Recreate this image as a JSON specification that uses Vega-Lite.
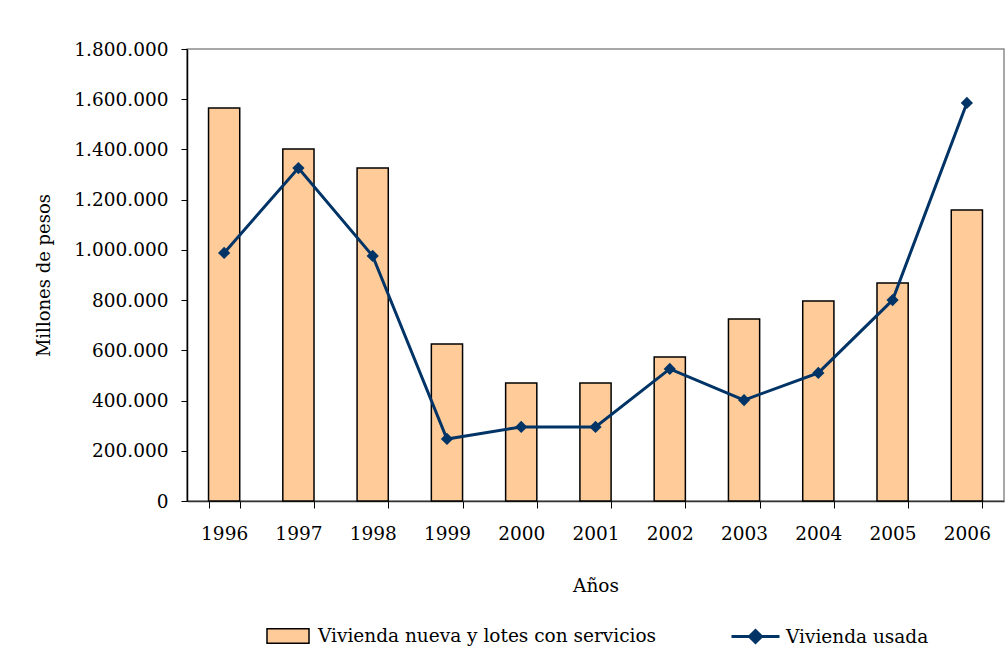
{
  "$schema": "https://vega.github.io/schema/vega-lite/v6.json",
  "autosize": {"type": "none"},
  "padding": {"left": 187, "top": 49, "right": 1, "bottom": 151},
  "width": 817,
  "height": 452,
  "background": "white",
  "config": {
    "locale": {"number": {"decimal": ",", "thousands": ".", "grouping": [3], "currency": ["$", ""]}},
    "font": "DejaVu Serif",
    "view": {"stroke": "#8c8c8c", "strokeWidth": 1.5},
    "axis": {"labelFont": "DejaVu Serif", "titleFont": "DejaVu Serif", "labelColor": "black", "titleColor": "black", "domainColor": "black", "tickColor": "black", "grid": false, "titleFontWeight": "normal", "labelOverlap": false},
    "legend": {"labelFont": "DejaVu Serif", "labelColor": "black", "labelFontSize": 18.5, "labelLimit": 600, "layout": {"bottom": {"anchor": "middle", "margin": 73}}}
  },
  "data": {
    "values": [
      {"year": "1996", "nueva": 1565000, "usada": 988000},
      {"year": "1997", "nueva": 1402000, "usada": 1326000},
      {"year": "1998", "nueva": 1326000, "usada": 976000},
      {"year": "1999", "nueva": 625000, "usada": 247000},
      {"year": "2000", "nueva": 470000, "usada": 295000},
      {"year": "2001", "nueva": 470000, "usada": 295000},
      {"year": "2002", "nueva": 573000, "usada": 526000},
      {"year": "2003", "nueva": 725000, "usada": 402000},
      {"year": "2004", "nueva": 796000, "usada": 510000},
      {"year": "2005", "nueva": 868000, "usada": 800000},
      {"year": "2006", "nueva": 1159000, "usada": 1585000}
    ]
  },
  "encoding": {
    "x": {
      "field": "year", "type": "ordinal",
      "scale": {"paddingInner": 0.58, "paddingOuter": 0.29},
      "axis": {"title": "Años", "labelAngle": 0, "labelFontSize": 18.5, "titleFontSize": 18.5, "tickBand": "extent", "tickSize": 7, "labelPadding": 16, "titlePadding": 34, "domainColor": "#333333", "domainWidth": 1.5, "tickWidth": 1}
    }
  },
  "layer": [
    {
      "mark": {"type": "bar", "stroke": "black", "strokeWidth": 1.5},
      "encoding": {
        "y": {
          "field": "nueva", "type": "quantitative",
          "scale": {"domain": [0, 1800000]},
          "axis": {"title": "Millones de pesos", "format": ",.0f", "values": [0, 200000, 400000, 600000, 800000, 1000000, 1200000, 1400000, 1600000, 1800000], "labelFontSize": 18.5, "titleFontSize": 18, "tickSize": 6, "labelPadding": 13, "titlePadding": 20, "domainWidth": 1.5}
        },
        "fill": {
          "datum": "Vivienda nueva y lotes con servicios",
          "scale": {"range": ["#FFCC99"]},
          "legend": {"title": null, "orient": "bottom", "offset": 16, "symbolType": "M-0.875,-0.3L0.875,-0.3L0.875,0.3L-0.875,0.3Z", "symbolSize": 2304, "symbolStrokeColor": "black", "symbolStrokeWidth": 1.5, "symbolFillColor": "#FFCC99", "labelOffset": 5}
        }
      }
    },
    {
      "mark": {"type": "line", "strokeWidth": 3},
      "encoding": {
        "y": {"field": "usada", "type": "quantitative"},
        "stroke": {
          "datum": "Vivienda usada",
          "scale": {"range": ["#003366"]},
          "legend": {"title": null, "orient": "bottom", "offset": 16, "symbolType": "M-1,0L1,0M0,-0.25L0.25,0L0,0.25L-0.25,0Z", "symbolSize": 2304, "symbolStrokeWidth": 3, "symbolStrokeColor": "#003366", "symbolFillColor": "#003366", "labelOffset": 5,
            "encode": {"symbols": {"update": {"fill": {"value": "#003366"}, "stroke": {"value": "#003366"}}}}}
        }
      }
    },
    {
      "mark": {"type": "point", "shape": "diamond", "filled": true, "size": 150, "color": "#003366", "opacity": 1},
      "encoding": {
        "y": {"field": "usada", "type": "quantitative"}
      }
    }
  ]
}
